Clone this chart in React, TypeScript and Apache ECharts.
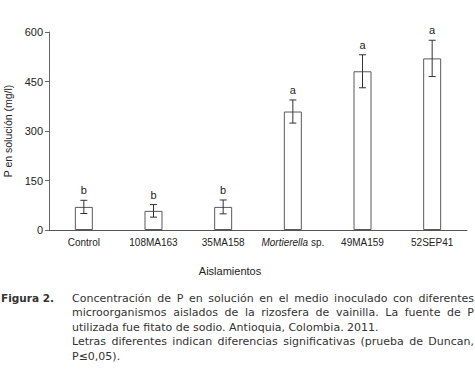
import React, { useEffect, useRef } from "react";
import * as echarts from "echarts";

const categories = ["Control", "108MA163", "35MA158", "Mortierella sp.", "49MA159", "52SEP41"];
const means = [70, 58, 70, 359, 481, 520];
const errors = [20, 19, 21, 35, 50, 55];
const letters = ["b", "b", "b", "a", "a", "a"];
const yTicks = { min: 0, max: 600, interval: 150 };

const captionTitle = "Figura 2.";
const captionLines = [
  { text: "Concentración de P en solución en el medio inoculado con diferentes", justify: true },
  { text: "microorganismos aislados de la rizosfera de vainilla. La fuente de P", justify: true },
  { text: "utilizada fue fitato de sodio. Antioquia, Colombia. 2011.", justify: false },
  { text: "Letras diferentes indican diferencias significativas (prueba de Duncan,", justify: true },
  { text: "P≤0,05).", justify: false },
];

const AX = "Liberation Sans, Arial, sans-serif";
const CAP_FONT = "DejaVu Sans, Verdana, sans-serif";
const CAP_SIZE = 11;

function buildCaption(): any[] {
  const els: any[] = [];
  const left = 72;
  const right = 474;
  const y0 = 298;
  const lh = 14.5;
  const ctx = document.createElement("canvas").getContext("2d")!;
  ctx.font = `${CAP_SIZE}px "DejaVu Sans"`;
  els.push({
    type: "text",
    x: 1,
    y: y0,
    style: { text: captionTitle, font: `bold 10.5px ${CAP_FONT}`, fill: "#333", textVerticalAlign: "middle" },
  });
  captionLines.forEach((ln, i) => {
    const y = y0 + i * lh;
    if (!ln.justify) {
      els.push({
        type: "text",
        x: left,
        y,
        style: { text: ln.text, font: `${CAP_SIZE}px ${CAP_FONT}`, fill: "#333", textVerticalAlign: "middle" },
      });
      return;
    }
    const words = ln.text.split(" ");
    const widths = words.map((w) => ctx.measureText(w).width);
    const total = widths.reduce((a, b) => a + b, 0);
    const gap = (right - left - total) / (words.length - 1);
    let x = left;
    words.forEach((w, k) => {
      els.push({
        type: "text",
        x,
        y,
        style: { text: w, font: `${CAP_SIZE}px ${CAP_FONT}`, fill: "#333", textVerticalAlign: "middle" },
      });
      x += widths[k] + gap;
    });
  });
  return els;
}

export default function App() {
  const ref = useRef<HTMLDivElement>(null);
  useEffect(() => {
    document.body.style.margin = "0";
    const chart = echarts.init(ref.current!, null, { renderer: "svg" });
    const errData = categories.map((_, i) => [i, means[i], errors[i]]);
    chart.setOption({
      animation: false,
      backgroundColor: "#fff",
      grid: { left: 49, right: 8, top: 32, bottom: 154, containLabel: false, outerBoundsMode: "none" },
      xAxis: {
        type: "category",
        data: categories,
        boundaryGap: true,
        axisLine: { lineStyle: { color: "#555", width: 1 } },
        axisTick: { alignWithLabel: true, length: 3, lineStyle: { color: "#555" } },
        axisLabel: {
          color: "#222",
          fontFamily: AX,
          fontSize: 10,
          margin: 7,
          interval: 0,
          formatter: (v: string) => (v === "Mortierella sp." ? "{i|Mortierella} sp." : v),
          rich: { i: { fontStyle: "italic", fontFamily: AX, fontSize: 10, color: "#222" } },
        },
      },
      yAxis: {
        type: "value",
        min: yTicks.min,
        max: yTicks.max,
        interval: yTicks.interval,
        name: "P en solución (mg/l)",
        nameLocation: "middle",
        nameGap: 34,
        nameTextStyle: { color: "#222", fontFamily: AX, fontSize: 10.5 },
        axisLine: { show: true, lineStyle: { color: "#666", width: 1 } },
        axisTick: { show: true, length: 4, lineStyle: { color: "#666" } },
        axisLabel: { color: "#222", fontFamily: AX, fontSize: 11, margin: 6 },
        splitLine: { show: false },
      },
      series: [
        {
          type: "bar",
          data: means,
          barWidth: 18,
          itemStyle: { color: "#fff", borderColor: "#5a5a5a", borderWidth: 1 },
        },
        {
          type: "custom",
          data: errData,
          renderItem: (params: any, api: any) => {
            const i = api.value(0);
            const m = api.value(1);
            const e = api.value(2);
            const top = api.coord([i, m + e]);
            const bot = api.coord([i, m - e]);
            const cw = 3.5;
            const st = { stroke: "#333", lineWidth: 1 };
            return {
              type: "group",
              children: [
                { type: "line", shape: { x1: top[0], y1: top[1], x2: bot[0], y2: bot[1] }, style: st },
                { type: "line", shape: { x1: top[0] - cw, y1: top[1], x2: top[0] + cw, y2: top[1] }, style: st },
                { type: "line", shape: { x1: bot[0] - cw, y1: bot[1], x2: bot[0] + cw, y2: bot[1] }, style: st },
                {
                  type: "text",
                  x: top[0],
                  y: top[1] - 10,
                  style: {
                    text: letters[params.dataIndex],
                    font: `11px ${AX}`,
                    fill: "#222",
                    textAlign: "center",
                    textVerticalAlign: "middle",
                  },
                },
              ],
            };
          },
          z: 5,
        },
      ],
      graphic: [
        {
          type: "text",
          x: 230,
          y: 271,
          style: {
            text: "Aislamientos",
            font: `11px ${AX}`,
            fill: "#222",
            textAlign: "center",
            textVerticalAlign: "middle",
          },
        },
        ...buildCaption(),
      ],
    });
    return () => chart.dispose();
  }, []);
  return <div ref={ref} style={{ width: 475, height: 384 }} />;
}
